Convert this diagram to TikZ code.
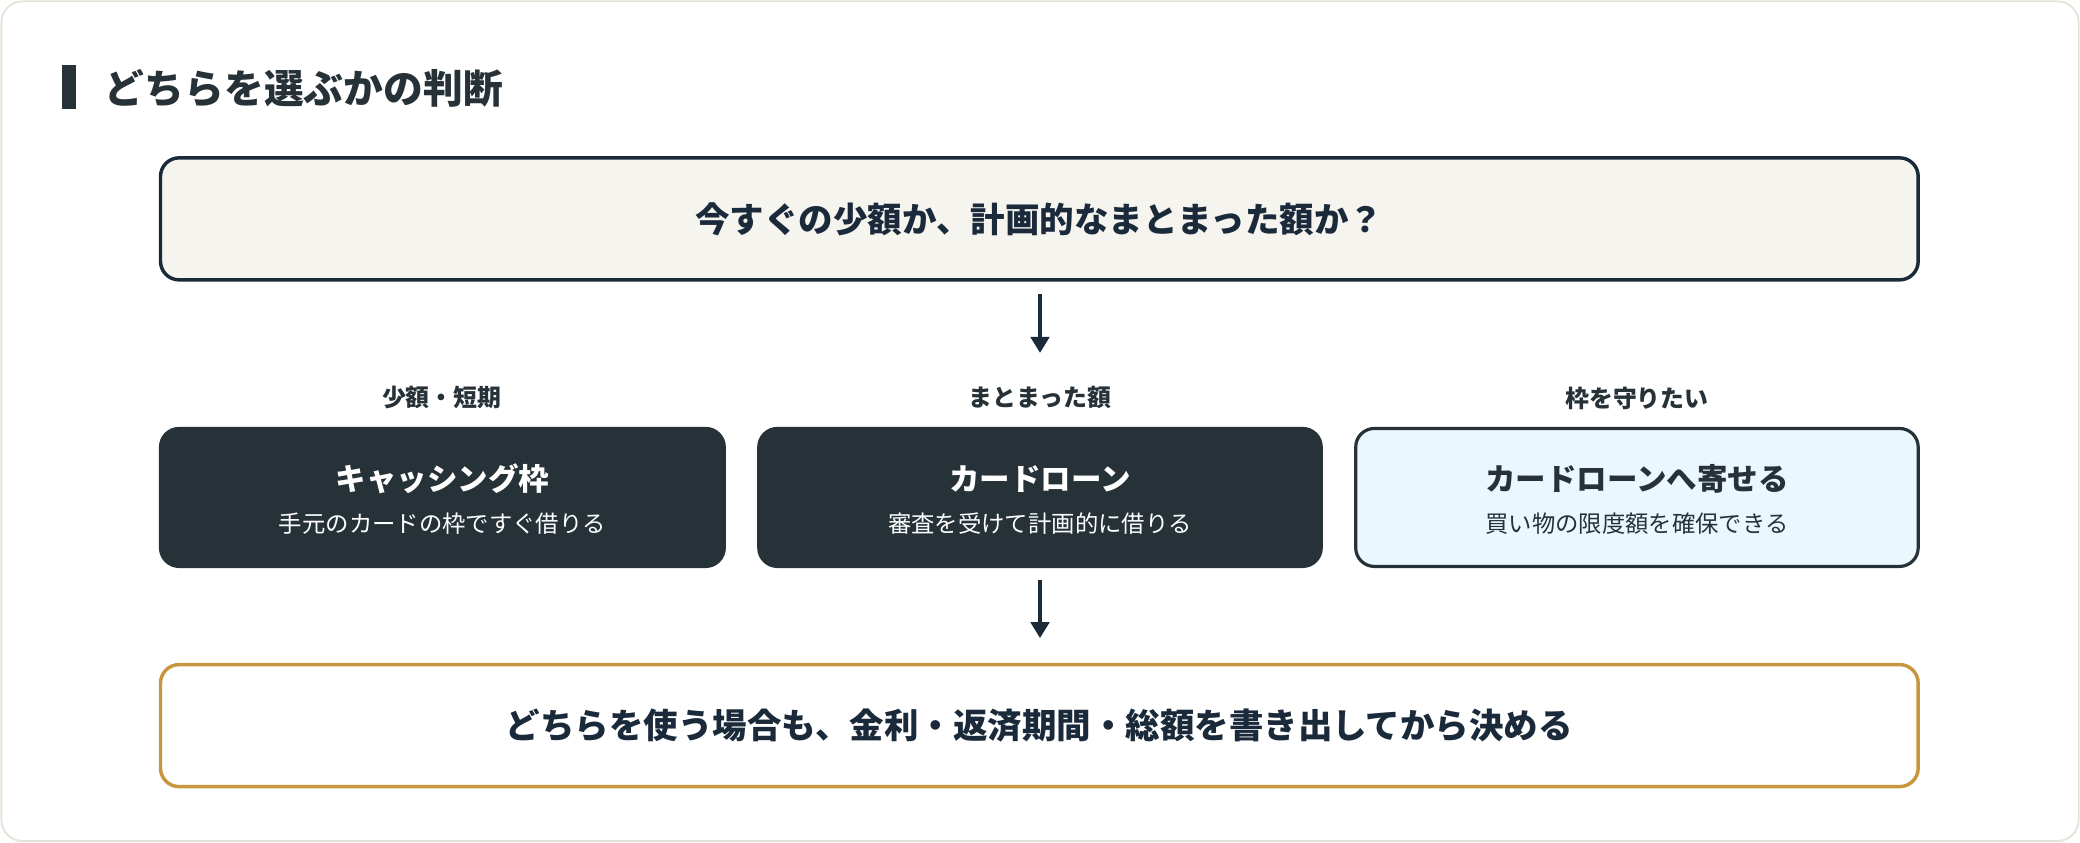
\documentclass[tikz,border=0pt]{standalone}
\usetikzlibrary{arrows.meta}
\usepackage{fontspec}
\setmainfont{Noto Sans CJK JP}
\begin{document}
\begin{tikzpicture}[x=0.5pt,y=-0.5pt,
  q/.style={draw=c1,line width=1.3pt,rounded corners=7pt},
  card/.style={rounded corners=7pt,draw=c2,line width=1.2pt},
  arr/.style={draw=c1,line width=1.2pt,-{Triangle[length=6pt,width=7pt]}},
  lbl/.style={font=\bfseries\fontsize{9}{11}\selectfont,text=c2},
  ttl/.style={font=\bfseries\fontsize{11.5}{14}\selectfont},
  sub/.style={font=\fontsize{8.8}{11}\selectfont}]
\definecolor{c1}{HTML}{1B2A3A}
\definecolor{c2}{HTML}{263238}
\definecolor{bg}{HTML}{F5F4EF}
\definecolor{lb}{HTML}{EAF8FD}
\definecolor{gd}{HTML}{C8963E}
\definecolor{ob}{HTML}{E5E3D8}
\useasboundingbox (0,0) rectangle (1568,635);
\draw[ob,fill=white,line width=0.7pt,rounded corners=8pt] (1,1) rectangle (1567,634);
\fill[c2] (47,49) rectangle (57,82);
\node[anchor=west,font=\bfseries\fontsize{15}{18}\selectfont,text=c2] (title) at (72,67) {どちらを選ぶかの判断};
\node[q,fill=bg,minimum width=662.5pt,minimum height=46pt,font=\bfseries\fontsize{13}{16}\selectfont,text=c1] (top) at (783.5,165) {今すぐの少額か、計画的なまとまった額か？};
\coordinate (a1) at (784,222); \coordinate (a2) at (784,266);
\draw[arr] (a1) -- (a2);
\node[lbl] (l1) at (333,300) {少額・短期};
\node[lbl] (l2) at (784,300) {まとまった額};
\node[lbl] (l3) at (1234,300) {枠を守りたい};
\node[card,fill=c2,minimum width=212.5pt,minimum height=52pt] (b1) at (333.5,375) {};
\node[card,fill=c2,minimum width=212pt,minimum height=52pt] (b2) at (784,375) {};
\node[card,fill=lb,minimum width=212pt,minimum height=52pt] (b3) at (1234,375) {};
\node[ttl,text=white] at (333.5,361) {キャッシング枠};
\node[sub,text=white] at (333.5,395) {手元のカードの枠ですぐ借りる};
\node[ttl,text=white] at (784,361) {カードローン};
\node[sub,text=white] at (784,395) {審査を受けて計画的に借りる};
\node[ttl,text=c2] at (1234,361) {カードローンへ寄せる};
\node[sub,text=c2] at (1234,395) {買い物の限度額を確保できる};
\coordinate (a3) at (784,437); \coordinate (a4) at (784,481);
\draw[arr] (a3) -- (a4);
\node[q,draw=gd,fill=white,minimum width=662.5pt,minimum height=46pt,font=\bfseries\fontsize{13}{16}\selectfont,text=c1] (bot) at (783.5,547) {どちらを使う場合も、金利・返済期間・総額を書き出してから決める};
\end{tikzpicture}
\end{document}
